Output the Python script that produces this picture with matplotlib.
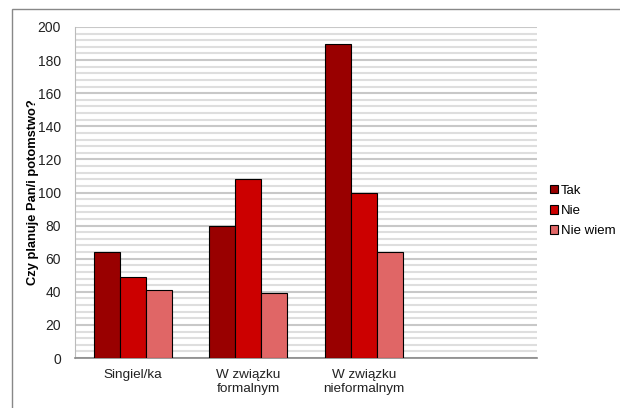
import matplotlib.pyplot as plt
from matplotlib.patches import Rectangle
from matplotlib.ticker import MultipleLocator
import numpy as np

plt.rcParams['font.family'] = ['Liberation Sans', 'DejaVu Sans']

# Odpowiedzi w podziale na status związku
categories = ["Singiel/ka", "W związku\nformalnym", "W związku\nnieformalnym", ""]
series_names = ["Tak", "Nie", "Nie wiem"]
tak = [64, 80, 190]
nie = [49, 108, 100]
nie_wiem = [41, 39, 64]
colors = ["#990000", "#cc0000", "#e06666"]

fig = plt.figure(figsize=(6.2, 4.08), dpi=100)
# Ramka wykresu w stylu Excela
fig.patches.append(Rectangle((12 / 620, -0.01), 1.0, 1 - 9 / 408 + 0.01,
                             transform=fig.transFigure, fill=False,
                             edgecolor="#888888", linewidth=1.0))

ax = fig.add_axes([75 / 620, 1 - 358 / 408, (537 - 75) / 620, (358 - 27) / 408])

x = np.arange(len(categories))
bar_w = 0.225
for i, (vals, name) in enumerate(zip([tak, nie, nie_wiem], series_names)):
    ax.bar(np.arange(len(vals)) + (i - 1) * bar_w, vals, width=bar_w,
           color=colors[i], edgecolor="black", linewidth=0.8, label=name,
           zorder=3)

ax.set_xlim(-0.5, len(categories) - 0.5)
ax.set_ylim(0, 200)
ax.yaxis.set_major_locator(MultipleLocator(20))
ax.yaxis.set_minor_locator(MultipleLocator(4))
ax.grid(axis="y", which="minor", color="#dedede", linewidth=1.5, zorder=0)
ax.grid(axis="y", which="major", color="#c8c8c8", linewidth=1.5, zorder=0)

ax.set_xticks(x)
ax.set_xticklabels(categories, fontsize=9.7, color="#222222", linespacing=1.2)
ax.tick_params(axis="x", length=0, pad=8)
ax.tick_params(axis="y", which="both", length=0, labelsize=10,
               labelcolor="#222222", pad=10)

for side in ["top", "right"]:
    ax.spines[side].set_visible(False)
ax.spines["left"].set_color("#bbbbbb")
ax.spines["bottom"].set_color("#888888")
ax.spines["bottom"].set_linewidth(1.2)

ax.set_ylabel("Czy planuje Pan/i potomstwo?", fontsize=9.3, fontweight="bold")
ax.yaxis.set_label_coords(-36 / 462, 0.5)

leg = fig.legend(loc="upper left", bbox_to_anchor=(538 / 620, 1 - 173 / 408),
                 frameon=False, fontsize=9.5, handlelength=0.6,
                 handleheight=0.6, handletextpad=0.25, labelspacing=0.62)
for h in leg.legend_handles:
    h.set_edgecolor("black")
    h.set_linewidth(0.8)

fig.savefig("out.png", dpi=100)
